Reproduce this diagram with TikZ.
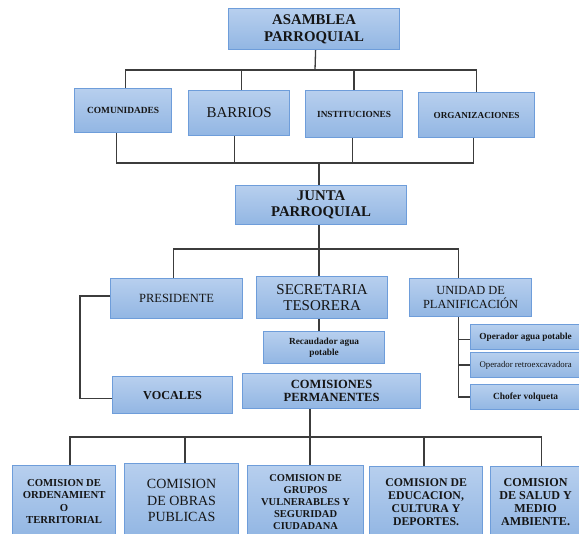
\documentclass[tikz,border=0pt]{standalone}
\usepackage{fontspec}
\setmainfont{Liberation Serif}
\usetikzlibrary{calc}
\definecolor{boxtop}{HTML}{B7CFEE}
\definecolor{boxbot}{HTML}{92B6E3}
\definecolor{boxline}{HTML}{6E9DDA}
\definecolor{linec}{HTML}{3C3C3C}
\definecolor{txt}{HTML}{151515}
\tikzset{
 orgbox/.style={draw=boxline, line width=1.2pt, top color=boxtop, bottom color=boxbot, anchor=north west, inner sep=0pt, align=center, text=txt},
 conn/.style={draw=linec, line width=1.3pt},
}
\begin{document}
\begin{tikzpicture}[x=1pt,y=-1pt]
\fill[white] (0,0) rectangle (579,534);
\useasboundingbox (0,0) rectangle (579,534);
% level 1
\node[orgbox, minimum width=171pt, minimum height=41pt, font=\fontsize{14.8}{16.5}\selectfont\bfseries] (asam) at (228,8) {ASAMBLEA\\PARROQUIAL};
\node[orgbox, minimum width=97pt, minimum height=44pt, font=\fontsize{9.4}{11}\selectfont\bfseries] (com) at (74,88) {COMUNIDADES};
\node[orgbox, minimum width=101pt, minimum height=45pt, font=\fontsize{15}{16}\selectfont] (bar) at (188,90) {BARRIOS};
\node[orgbox, minimum width=97pt, minimum height=47pt, font=\fontsize{9.3}{11}\selectfont\bfseries] (ins) at (305,90) {INSTITUCIONES};
\node[orgbox, minimum width=116pt, minimum height=45pt, font=\fontsize{9.2}{11}\selectfont\bfseries] (org) at (418,92) {ORGANIZACIONES};
% junta
\node[orgbox, minimum width=171pt, minimum height=39pt, font=\fontsize{14.8}{16}\selectfont\bfseries] (jun) at (235,185) {JUNTA\\PARROQUIAL};
\node[orgbox, minimum width=132pt, minimum height=40pt, font=\fontsize{12.5}{14}\selectfont] (pre) at (110,278) {PRESIDENTE};
\node[orgbox, minimum width=131pt, minimum height=42pt, font=\fontsize{15}{16.7}\selectfont] (sec) at (256,276) {SECRETARIA\\TESORERA};
\node[orgbox, minimum width=122pt, minimum height=38pt, font=\fontsize{12.4}{13.3}\selectfont] (uni) at (409,278) {UNIDAD DE\\PLANIFICACIÓN};
\node[orgbox, minimum width=121pt, minimum height=32pt, font=\fontsize{9.3}{10.7}\selectfont\bfseries] (rec) at (263,331) {Recaudador agua\\potable};
\node[orgbox, minimum width=110pt, minimum height=25pt, font=\fontsize{9.3}{11}\selectfont\bfseries] (op1) at (470,324) {Operador agua potable};
\node[orgbox, minimum width=110pt, minimum height=25pt, font=\fontsize{8.8}{10}\selectfont] (op2) at (470,352) {Operador retroexcavadora};
\node[orgbox, minimum width=110pt, minimum height=25pt, font=\fontsize{9.4}{11}\selectfont\bfseries] (op3) at (470,384) {Chofer volqueta};
\node[orgbox, minimum width=120pt, minimum height=37pt, font=\fontsize{12.2}{14}\selectfont\bfseries] (voc) at (112,376) {VOCALES};
\node[orgbox, minimum width=178pt, minimum height=35pt, font=\fontsize{12.5}{13.3}\selectfont\bfseries] (cp) at (242,373) {COMISIONES\\PERMANENTES};
% comisiones
\node[orgbox, minimum width=103pt, minimum height=72pt, font=\fontsize{10.7}{12.2}\selectfont\bfseries] (c1) at (12,465) {COMISION DE\\ORDENAMIENT\\O\\TERRITORIAL};
\node[orgbox, minimum width=114pt, minimum height=74pt, font=\fontsize{14}{16.7}\selectfont] (c2) at (124,463) {COMISION\\DE OBRAS\\PUBLICAS};
\node[orgbox, minimum width=116pt, minimum height=72pt, font=\fontsize{10.5}{12}\selectfont\bfseries] (c3) at (247,465) {COMISION DE\\GRUPOS\\VULNERABLES Y\\SEGURIDAD\\CIUDADANA};
\node[orgbox, minimum width=113pt, minimum height=71pt, font=\fontsize{11.8}{12.8}\selectfont\bfseries] (c4) at (369,466) {COMISION DE\\EDUCACION,\\CULTURA Y\\DEPORTES.};
\node[orgbox, minimum width=90pt, minimum height=71pt, font=\fontsize{12.1}{13.3}\selectfont\bfseries] (c5) at (490,466) {COMISION\\DE SALUD Y\\MEDIO\\AMBIENTE.};
% bus coordinates
\coordinate (b1) at (315,70);
\coordinate (b2) at (319,163);
\coordinate (b3) at (319,249);
\coordinate (b4) at (310,437);
\coordinate (v1) at (80,0);
% level 1 connectors
\coordinate (asS) at ([xshift=1.5pt]asam.south);
\coordinate (comN) at ([xshift=2.5pt]com.north);
\coordinate (barN) at ([xshift=2.5pt]bar.north);
\coordinate (comS) at ([xshift=-6.5pt]com.south);
\coordinate (barS) at ([xshift=-4.5pt]bar.south);
\coordinate (insS) at ([xshift=-1.5pt]ins.south);
\coordinate (orgS) at ([xshift=-3pt]org.south);
\draw[conn] (asS) -- (b1);
\draw[conn] (comN) |- (b1) -| (org.north);
\draw[conn] (barN) -- (barN |- b1);
\draw[conn] (ins.north) -- (ins.north |- b1);
\draw[conn] (comS) |- (b2) -| (orgS);
\draw[conn] (barS) -- (barS |- b2);
\draw[conn] (insS) -- (insS |- b2);
\draw[conn] (b2) -- (b2 |- jun.north);
% junta connectors
\coordinate (preN) at ([xshift=-3pt]pre.north);
\coordinate (uniN) at ([xshift=-12pt]uni.north);
\coordinate (uniS) at ([xshift=-12pt]uni.south);
\draw[conn] (b3 |- jun.south) -- (b3);
\draw[conn] (preN) |- (b3) -| (uniN);
\draw[conn] (b3) -- (b3 |- sec.north);
\draw[conn] (b3 |- sec.south) -- (b3 |- rec.north);
% unidad branches
\coordinate (op1W) at ([yshift=-2.5pt]op1.west);
\draw[conn] (uniS) |- (op3.west);
\draw[conn] (op1W -| uniS) -- (op1W);
\draw[conn] (op2.west -| uniS) -- (op2.west);
% presidente - vocales
\coordinate (pp) at ([yshift=2.5pt]pre.west);
\coordinate (vv) at ([yshift=-3.5pt]voc.west);
\draw[conn] (pp) -- (pp -| v1) |- (vv);
% comisiones bus
\coordinate (c1N) at ([xshift=6pt]c1.north);
\coordinate (c2N) at ([xshift=3.3pt]c2.north);
\coordinate (c4N) at ([xshift=-2pt]c4.north);
\coordinate (c5N) at ([xshift=6pt]c5.north);
\draw[conn] (b4 |- cp.south) -- (b4 |- c3.north);
\draw[conn] (c1N) |- (b4) -| (c5N);
\draw[conn] (c2N) -- (c2N |- b4);
\draw[conn] (c4N) -- (c4N |- b4);
\end{tikzpicture}
\end{document}
